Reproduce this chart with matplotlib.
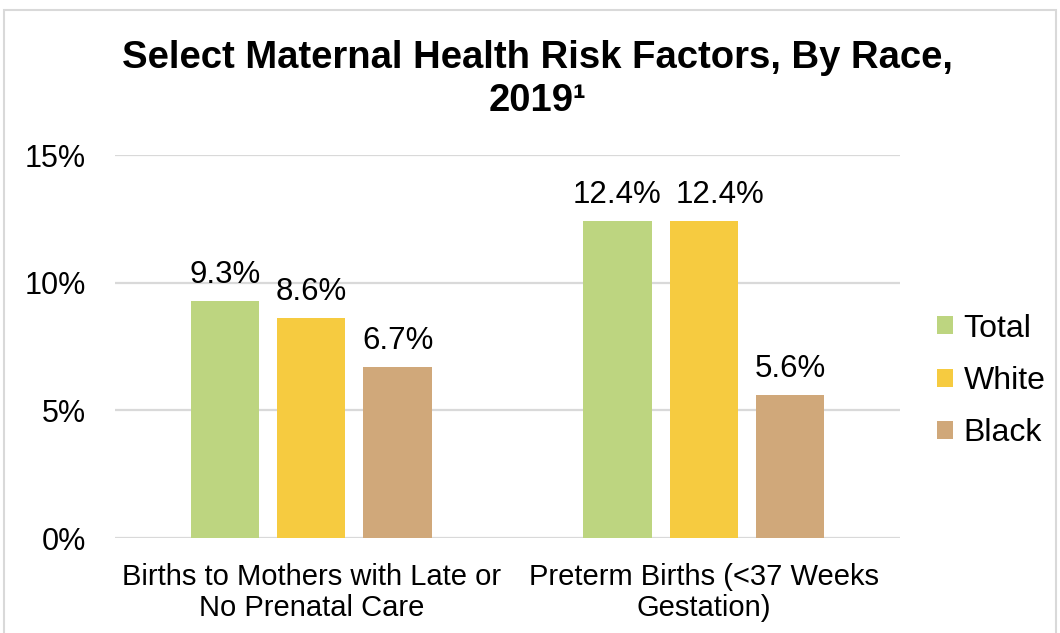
import matplotlib.pyplot as plt
from matplotlib.patches import Rectangle
import numpy as np

plt.rcParams['font.family'] = ['Liberation Sans', 'DejaVu Sans']

categories = ["Births to Mothers with Late or\nNo Prenatal Care",
              "Preterm Births (<37 Weeks\nGestation)"]
series = ["Total", "White", "Black"]
values = {
    "Total": [9.3, 12.4],
    "White": [8.6, 12.4],
    "Black": [6.7, 5.6],
}
colors = {"Total": "#BDD580", "White": "#F6CB40", "Black": "#D0A87A"}
yticks = [0, 5, 10, 15]

fig = plt.figure(figsize=(10.6, 6.33), dpi=100)
ax = fig.add_axes([0.1085, 0.150, 0.7405, 0.605])

x = np.arange(len(categories))
width = 0.174
step = 0.22
for i, s in enumerate(series):
    pos = x + (i - 1) * step
    bars = ax.bar(pos, values[s], width, color=colors[s], label=s, zorder=3)
    for j, (b, v) in enumerate(zip(bars, values[s])):
        # excel nudges the second 12.4% label right so it doesn't touch the first
        dx = 12 if (s == "White" and j == 1) else 0
        ax.annotate(f"{v}%", (b.get_x() + b.get_width() / 2, v),
                    xytext=(dx, 8), textcoords="offset points",
                    ha="center", va="bottom", fontsize=22.5)

ax.set_xlim(-0.5, 1.5)
ax.set_ylim(0, 15)
ax.set_yticks(yticks)
ax.set_yticklabels([f"{t}%" for t in yticks], fontsize=22)
ax.set_xticks(x)
ax.set_xticklabels(categories, fontsize=21, linespacing=1.15)
ax.tick_params(axis="both", length=0)
ax.tick_params(axis="y", pad=21)
ax.tick_params(axis="x", pad=18)
ax.grid(axis="y", color="#D9D9D9", linewidth=1.6, zorder=0)
for sp in ax.spines.values():
    sp.set_visible(False)

fig.text(0.507, 0.875, "Select Maternal Health Risk Factors, By Race,\n2019¹",
         ha="center", va="center", fontsize=27.5, fontweight="bold", linespacing=1.25)

ax.legend(loc="center left", bbox_to_anchor=(1.01, 0.41), frameon=False,
          fontsize=23, handlelength=0.5, handleheight=0.5, handletextpad=0.35,
          labelspacing=0.7)

fig.patches.append(Rectangle((4 / 1060, -0.05), 1052 / 1060, 1.05 - 10 / 633,
                             transform=fig.transFigure, fill=False,
                             edgecolor="#D9D9D9", linewidth=1.5))

fig.savefig("out.png", dpi=100)
